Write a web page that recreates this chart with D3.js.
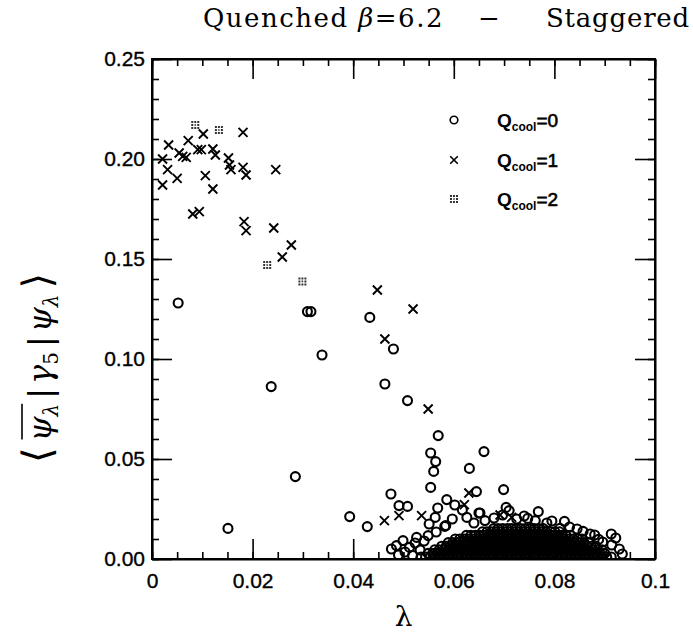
<!DOCTYPE html>
<meta charset="utf-8">
<script src="https://d3js.org/d3.v7.min.js"></script>
<style>
  body { margin: 0; background: #fff; }
</style>
<div id="chart"></div>
<script>
// ---- data ----
// Q_cool = 0 : isolated circles  [lambda, value]
const q0Points = [
  [0.0052, 0.1280], [0.0309, 0.1237], [0.0316, 0.1237], [0.0433, 0.1208], [0.0338, 0.1020],
  [0.0480, 0.1050], [0.0237, 0.0862], [0.0463, 0.0875], [0.0508, 0.0792], [0.0569, 0.0617],
  [0.0554, 0.0530], [0.0564, 0.0487], [0.0560, 0.0438], [0.0554, 0.0358], [0.0285, 0.0412],
  [0.0151, 0.0153], [0.0393, 0.0212], [0.0428, 0.0162], [0.0475, 0.0325], [0.0491, 0.0267],
  [0.0508, 0.0263], [0.0586, 0.0297], [0.0568, 0.0255], [0.0563, 0.0208], [0.0551, 0.0175],
  [0.0584, 0.0167], [0.0660, 0.0537], [0.0631, 0.0453], [0.0645, 0.0337], [0.0699, 0.0347],
  [0.0704, 0.0258], [0.0768, 0.0237], [0.0650, 0.0230], [0.0747, 0.0203], [0.0820, 0.0188],
  [0.0785, 0.0180], [0.0871, 0.0125], [0.0913, 0.0125], [0.0929, 0.0050], [0.0888, 0.0098]
];
// Q_cool = 0 : rings along the edge of the dense heap
const q0Fringe = [
  [0.0476, 0.0050], [0.0486, 0.0067], [0.0490, 0.0020], [0.0499, 0.0092], [0.0503, 0.0035],
  [0.0512, 0.0058], [0.0518, 0.0018], [0.0523, 0.0080], [0.0526, 0.0108], [0.0533, 0.0045],
  [0.0541, 0.0090], [0.0549, 0.0117], [0.0565, 0.0135], [0.0582, 0.0163], [0.0597, 0.0200],
  [0.0602, 0.0270], [0.0617, 0.0245], [0.0626, 0.0208], [0.0640, 0.0180], [0.0652, 0.0230],
  [0.0662, 0.0192], [0.0680, 0.0205], [0.0697, 0.0220], [0.0710, 0.0242], [0.0725, 0.0200],
  [0.0740, 0.0215], [0.0762, 0.0192], [0.0795, 0.0190], [0.0811, 0.0153], [0.0830, 0.0160],
  [0.0845, 0.0150], [0.0857, 0.0138], [0.0880, 0.0120], [0.0896, 0.0085], [0.0914, 0.0070],
  [0.0922, 0.0105], [0.0935, 0.0025]
];
// Q_cool = 0 : the dense heap, one row of lambdas per value level
const heapValues = [0.0010, 0.0028, 0.0046, 0.0064, 0.0082, 0.0100, 0.0118, 0.0136, 0.0152];
const heapRows = [
  [0.0535,0.0544,0.0553,0.0562,0.0571,0.0580,0.0589,0.0598,0.0607,0.0616,0.0625,0.0634,0.0643,0.0652,0.0661,0.0670,0.0679,0.0688,0.0697,0.0706,0.0715,0.0724,0.0733,0.0742,0.0751,0.0760,0.0769,0.0778,0.0787,0.0796,0.0805,0.0814,0.0823,0.0832,0.0841,0.0850,0.0859,0.0868,0.0877,0.0886,0.0895,0.0904,0.0913],
  [0.0549,0.0558,0.0567,0.0576,0.0585,0.0594,0.0603,0.0612,0.0621,0.0630,0.0639,0.0648,0.0657,0.0666,0.0675,0.0684,0.0693,0.0702,0.0711,0.0720,0.0729,0.0738,0.0747,0.0756,0.0765,0.0774,0.0783,0.0792,0.0801,0.0810,0.0819,0.0828,0.0837,0.0846,0.0855,0.0864,0.0873,0.0882,0.0891,0.0900],
  [0.0562,0.0571,0.0580,0.0589,0.0598,0.0607,0.0616,0.0625,0.0634,0.0643,0.0652,0.0661,0.0670,0.0679,0.0688,0.0697,0.0706,0.0715,0.0724,0.0733,0.0742,0.0751,0.0760,0.0769,0.0778,0.0787,0.0796,0.0805,0.0814,0.0823,0.0832,0.0841,0.0850,0.0859,0.0868,0.0877,0.0886,0.0895],
  [0.0576,0.0585,0.0594,0.0603,0.0612,0.0621,0.0630,0.0639,0.0648,0.0657,0.0666,0.0675,0.0684,0.0693,0.0702,0.0711,0.0720,0.0729,0.0738,0.0747,0.0756,0.0765,0.0774,0.0783,0.0792,0.0801,0.0810,0.0819,0.0828,0.0837,0.0846,0.0855,0.0864,0.0873,0.0882],
  [0.0589,0.0598,0.0607,0.0616,0.0625,0.0634,0.0643,0.0652,0.0661,0.0670,0.0679,0.0688,0.0697,0.0706,0.0715,0.0724,0.0733,0.0742,0.0751,0.0760,0.0769,0.0778,0.0787,0.0796,0.0805,0.0814,0.0823,0.0832,0.0841,0.0850,0.0859,0.0868],
  [0.0603,0.0612,0.0621,0.0630,0.0639,0.0648,0.0657,0.0666,0.0675,0.0684,0.0693,0.0702,0.0711,0.0720,0.0729,0.0738,0.0747,0.0756,0.0765,0.0774,0.0783,0.0792,0.0801,0.0810,0.0819,0.0828,0.0837,0.0846,0.0855],
  [0.0625,0.0634,0.0643,0.0652,0.0661,0.0670,0.0679,0.0688,0.0697,0.0706,0.0715,0.0724,0.0733,0.0742,0.0751,0.0760,0.0769,0.0778,0.0787,0.0796,0.0805,0.0814,0.0823,0.0832],
  [0.0657,0.0666,0.0675,0.0684,0.0693,0.0702,0.0711,0.0720,0.0729,0.0738,0.0747,0.0756,0.0765,0.0774,0.0783,0.0792,0.0801,0.0810],
  [0.0679,0.0688,0.0697,0.0706,0.0715,0.0724,0.0733,0.0742,0.0751,0.0760,0.0769,0.0778]
];
// Q_cool = 1 : crosses
const q1Points = [
  [0.0021, 0.2000], [0.0033, 0.2070], [0.0031, 0.1947], [0.0021, 0.1870], [0.0050, 0.1903],
  [0.0054, 0.2030], [0.0061, 0.2013], [0.0068, 0.2008], [0.0072, 0.2092], [0.0091, 0.2047],
  [0.0098, 0.2047], [0.0102, 0.2125], [0.0106, 0.1917], [0.0121, 0.2050], [0.0126, 0.2020],
  [0.0121, 0.1850], [0.0081, 0.1725], [0.0094, 0.1737], [0.0152, 0.2005], [0.0154, 0.1970],
  [0.0157, 0.1947], [0.0181, 0.2133], [0.0181, 0.1958], [0.0187, 0.1920], [0.0183, 0.1687],
  [0.0187, 0.1642], [0.0246, 0.1947], [0.0242, 0.1655], [0.0277, 0.1570], [0.0259, 0.1510],
  [0.0448, 0.1345], [0.0519, 0.1250], [0.0463, 0.1100], [0.0549, 0.0750], [0.0462, 0.0192],
  [0.0491, 0.0217], [0.0536, 0.0217], [0.0630, 0.0330], [0.0621, 0.0272], [0.0692, 0.0220],
  [0.0715, 0.0208]
];
// Q_cool = 2 : speckled squares
const q2Points = [
  [0.0086, 0.2170], [0.0133, 0.2145], [0.0229, 0.1470], [0.0299, 0.1388]
];

const xTicks = [0, 0.02, 0.04, 0.06, 0.08, 0.1];
const xTickLabels = ["0", "0.02", "0.04", "0.06", "0.08", "0.1"];
const yTicks = [0, 0.05, 0.10, 0.15, 0.20, 0.25];
const yTickLabels = ["0.00", "0.05", "0.10", "0.15", "0.20", "0.25"];
const legendLabels = ["0", "1", "2"];

// ---- layout ----
const margin = {top: 59, right: 38, bottom: 78, left: 152},
    width = 693 - margin.left - margin.right,
    height = 637 - margin.top - margin.bottom;

const svgRoot = d3.select("#chart")
    .append("svg")
    .attr("width", 693)
    .attr("height", 637);

const svg = svgRoot.append("g")
    .attr("transform", `translate(${margin.left}, ${margin.top})`);

const x = d3.scaleLinear().domain([0, 0.1]).range([0, width]);
const y = d3.scaleLinear().domain([0, 0.25]).range([height, 0]);

const tickFont = "'Liberation Sans', Arial, sans-serif";

// clip so the heap stops at the frame
svg.append("clipPath").attr("id", "frame")
    .append("rect").attr("width", width).attr("height", height);

// ---- axes (ticks inward on all four sides) ----
function styleAxis(g) {
    g.selectAll("line").attr("stroke", "#000").attr("stroke-width", 1.6);
    g.selectAll("path.domain").attr("stroke", "#000").attr("stroke-width", 2);
}

svg.append("g").attr("transform", `translate(0, ${height})`)
    .call(d3.axisBottom(x).ticks(25).tickSize(-7).tickSizeOuter(0).tickFormat(""))
    .call(g => g.select(".domain").remove()).call(styleAxis);
svg.append("g").call(d3.axisTop(x).ticks(25).tickSize(-7).tickSizeOuter(0).tickFormat(""))
    .call(g => g.select(".domain").remove()).call(styleAxis);
svg.append("g").call(d3.axisLeft(y).ticks(25).tickSize(-7).tickSizeOuter(0).tickFormat(""))
    .call(g => g.select(".domain").remove()).call(styleAxis);
svg.append("g").attr("transform", `translate(${width}, 0)`)
    .call(d3.axisRight(y).ticks(25).tickSize(-7).tickSizeOuter(0).tickFormat(""))
    .call(g => g.select(".domain").remove()).call(styleAxis);

const xAxis = svg.append("g").attr("transform", `translate(0, ${height})`)
    .call(d3.axisBottom(x).tickValues(xTicks).tickSize(-20).tickSizeOuter(0)
        .tickPadding(14).tickFormat((d, i) => xTickLabels[i]))
    .call(styleAxis);
svg.append("g")
    .call(d3.axisTop(x).tickValues(xTicks).tickSize(-20).tickSizeOuter(0).tickFormat(""))
    .call(styleAxis);
const yAxis = svg.append("g")
    .call(d3.axisLeft(y).tickValues(yTicks).tickSize(-20).tickSizeOuter(0)
        .tickPadding(7).tickFormat((d, i) => yTickLabels[i]))
    .call(styleAxis);
svg.append("g").attr("transform", `translate(${width}, 0)`)
    .call(d3.axisRight(y).tickValues(yTicks).tickSize(-20).tickSizeOuter(0).tickFormat(""))
    .call(styleAxis);

[xAxis, yAxis].forEach(a => a.selectAll("text")
    .attr("fill", "#000")
    .style("font-family", tickFont)
    .style("font-size", "21px")
    .attr("stroke", "#000").attr("stroke-width", 0.35));

// frame
svg.append("rect").attr("width", width).attr("height", height)
    .attr("fill", "none").attr("stroke", "#000").attr("stroke-width", 2);

// ---- marks ----
const marks = svg.append("g").attr("clip-path", "url(#frame)");

const heapPoints = heapRows.flatMap((row, i) => row.map(l => [l, heapValues[i]]));
const allCircles = q0Points.concat(q0Fringe, heapPoints);

marks.append("g")
    .selectAll("circle")
    .data(allCircles)
    .join("circle")
    .attr("cx", d => x(d[0]))
    .attr("cy", d => y(d[1]))
    .attr("r", 4.5)
    .attr("fill", "none")
    .attr("stroke", "#000")
    .attr("stroke-width", 2.1);

const crossPath = "M-4.5,-4.5L4.5,4.5M-4.5,4.5L4.5,-4.5";
marks.append("g")
    .selectAll("path")
    .data(q1Points)
    .join("path")
    .attr("transform", d => `translate(${x(d[0])}, ${y(d[1])})`)
    .attr("d", crossPath)
    .attr("fill", "none")
    .attr("stroke", "#000")
    .attr("stroke-width", 1.9);

// speckled square: 3x3 dots
const speckle = "M-4,-4h2v2h-2zM-1,-4h2v2h-2zM2,-4h2v2h-2zM-4,-1h2v2h-2zM2,-1h2v2h-2zM-4,2h2v2h-2zM-1,2h2v2h-2zM2,2h2v2h-2zM-0.8,-0.8h1.6v1.6h-1.6z";
marks.append("g")
    .selectAll("path")
    .data(q2Points)
    .join("path")
    .attr("transform", d => `translate(${x(d[0])}, ${y(d[1])})`)
    .attr("d", speckle)
    .attr("fill", "#333");

// ---- legend ----
const legend = svgRoot.append("g");
const legendY = [120, 160, 199];
legend.append("circle").attr("cx", 454).attr("cy", legendY[0]).attr("r", 3.8)
    .attr("fill", "none").attr("stroke", "#000").attr("stroke-width", 1.6);
legend.append("path").attr("transform", `translate(454, ${legendY[1]})`)
    .attr("d", "M-3.8,-3.8L3.8,3.8M-3.8,3.8L3.8,-3.8")
    .attr("stroke", "#000").attr("stroke-width", 1.6);
legend.append("path").attr("transform", `translate(454, ${legendY[2]})`)
    .attr("d", speckle).attr("fill", "#333");

legendLabels.forEach((lab, i) => {
    const t = legend.append("text")
        .attr("x", 497).attr("y", legendY[i] + 7)
        .style("font-family", tickFont).style("font-weight", "bold")
        .style("font-size", "19px");
    t.append("tspan").text("Q");
    t.append("tspan").attr("dy", 4).style("font-size", "12px").text("cool");
    t.append("tspan").attr("dy", -4).style("font-weight", "normal")
        .attr("stroke", "#000").attr("stroke-width", 0.6).text("=" + lab);
});

// ---- title ----
const titleFont = "'DejaVu Serif', serif";
const title = svgRoot.append("g").style("font-family", titleFont).style("font-size", "26px");
const t1 = title.append("text").attr("x", 203).attr("y", 27).style("letter-spacing", "1.5px");
t1.append("tspan").text("Quenched ");
t1.append("tspan").style("font-style", "italic").text("β");
t1.append("tspan").text("=6.2");
title.append("text").attr("x", 489).attr("y", 27).attr("text-anchor", "middle").text("−");
title.append("text").attr("x", 690).attr("y", 27).attr("text-anchor", "end")
    .style("letter-spacing", "0.8px").text("Staggered");

// ---- axis titles ----
svgRoot.append("text")
    .attr("x", margin.left + width / 2).attr("y", 626)
    .attr("text-anchor", "middle")
    .style("font-family", titleFont).style("font-size", "28px")
    .text("λ");

const ylab = svgRoot.append("g").attr("transform", "translate(51, 368) rotate(-90)");
const yt = ylab.append("text").attr("text-anchor", "middle")
    .style("font-family", titleFont).style("font-size", "32px");
yt.append("tspan").style("font-family", "'DejaVu Sans', sans-serif")
    .style("font-size", "40px").text("⟨");
yt.append("tspan").attr("dx", 6).style("font-style", "italic").text("ψ");
yt.append("tspan").attr("dy", 7).style("font-size", "20px").style("font-style", "italic").text("λ");
yt.append("tspan").attr("dy", -7).attr("dx", 5).text("|");
yt.append("tspan").attr("dx", 4).style("font-style", "italic").text("γ");
yt.append("tspan").attr("dy", 7).style("font-size", "20px").text("5");
yt.append("tspan").attr("dy", -7).attr("dx", 5).text("|");
yt.append("tspan").attr("dx", 4).style("font-style", "italic").text("ψ");
yt.append("tspan").attr("dy", 7).style("font-size", "20px").style("font-style", "italic").text("λ");
yt.append("tspan").attr("dy", -7).attr("dx", 6).style("font-family", "'DejaVu Sans', sans-serif")
    .style("font-size", "40px").text("⟩");

// bar over the first psi_lambda
const node = yt.node();
const e1 = node.getExtentOfChar(1), e2 = node.getExtentOfChar(2);
ylab.append("line")
    .attr("x1", e1.x + 2).attr("x2", e2.x + e2.width)
    .attr("y1", e1.y + 1).attr("y2", e1.y + 1)
    .attr("stroke", "#000").attr("stroke-width", 1.6);
</script>
